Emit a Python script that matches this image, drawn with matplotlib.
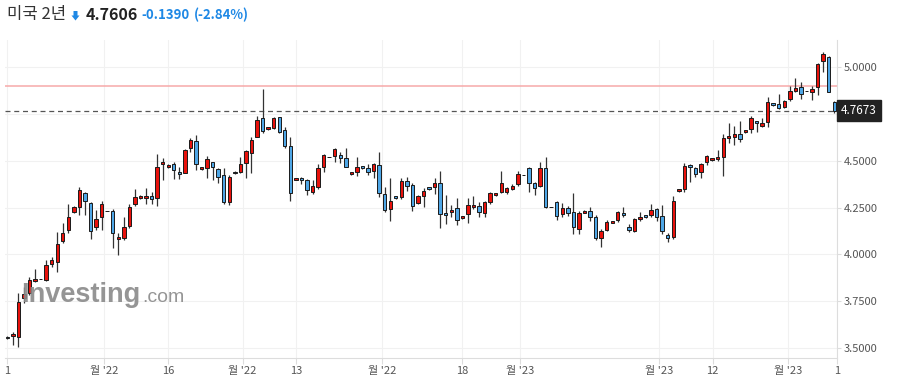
import matplotlib
matplotlib.use("Agg")
import matplotlib.pyplot as plt
import matplotlib.transforms as mtransforms
from matplotlib.patches import Polygon
import numpy as np

plt.rcParams['font.family'] = ['Noto Sans CJK KR', 'DejaVu Sans']

# OHLC values
opens = [3.560, 3.564, 3.557, 3.765, 3.795, 3.856, 3.868, 3.863, 3.947, 3.958,
         4.073, 4.130, 4.228, 4.251, 4.326, 4.273, 4.148, 4.201, 4.231, 4.231,
         4.080, 4.086, 4.151, 4.267, 4.300, 4.300, 4.312, 4.299, 4.481, 4.465,
         4.482, 4.440, 4.436, 4.566, 4.605, 4.454, 4.462, 4.491, 4.455, 4.424,
         4.278, 4.440, 4.441, 4.489, 4.543, 4.628, 4.726, 4.668, 4.673, 4.732,
         4.664, 4.578, 4.397, 4.406, 4.397, 4.335, 4.361, 4.465, 4.518, 4.525,
         4.529, 4.513, 4.427, 4.441, 4.472, 4.459, 4.446, 4.477, 4.320, 4.240,
         4.312, 4.308, 4.391, 4.370, 4.273, 4.312, 4.358, 4.361, 4.379, 4.219,
         4.224, 4.246, 4.192, 4.214, 4.251, 4.260, 4.219, 4.278, 4.315, 4.331,
         4.331, 4.350, 4.374, 4.422, 4.459, 4.379, 4.365, 4.459, 4.254, 4.278,
         4.214, 4.246, 4.224, 4.134, 4.222, 4.233, 4.198, 4.086, 4.130, 4.167,
         4.182, 4.219, 4.144, 4.125, 4.187, 4.209, 4.209, 4.240, 4.205, 4.103,
         4.094, 4.336, 4.347, 4.477, 4.459, 4.438, 4.494, 4.502, 4.507, 4.521,
         4.619, 4.628, 4.642, 4.651, 4.667, 4.712, 4.687, 4.705, 4.806, 4.801,
         4.788, 4.829, 4.873, 4.895, 4.870, 4.868, 4.895, 5.034, 5.052, 4.815]
highs = [3.565, 3.587, 3.792, 3.827, 3.877, 3.922, 3.868, 3.970, 3.984, 4.118,
         4.166, 4.267, 4.260, 4.361, 4.335, 4.281, 4.237, 4.286, 4.231, 4.240,
         4.112, 4.201, 4.267, 4.347, 4.315, 4.353, 4.331, 4.535, 4.513, 4.480,
         4.493, 4.468, 4.561, 4.619, 4.635, 4.468, 4.525, 4.495, 4.462, 4.459,
         4.424, 4.445, 4.521, 4.557, 4.628, 4.739, 4.881, 4.682, 4.732, 4.735,
         4.682, 4.628, 4.410, 4.415, 4.404, 4.397, 4.482, 4.536, 4.518, 4.566,
         4.545, 4.566, 4.442, 4.518, 4.474, 4.482, 4.489, 4.548, 4.361, 4.406,
         4.314, 4.406, 4.411, 4.382, 4.317, 4.353, 4.360, 4.406, 4.445, 4.317,
         4.263, 4.302, 4.206, 4.299, 4.312, 4.278, 4.286, 4.333, 4.328, 4.447,
         4.358, 4.374, 4.445, 4.422, 4.465, 4.388, 4.495, 4.518, 4.254, 4.286,
         4.272, 4.258, 4.326, 4.231, 4.235, 4.254, 4.210, 4.136, 4.183, 4.180,
         4.233, 4.251, 4.162, 4.193, 4.224, 4.211, 4.267, 4.246, 4.263, 4.115,
         4.313, 4.349, 4.489, 4.482, 4.468, 4.489, 4.530, 4.515, 4.557, 4.641,
         4.699, 4.685, 4.713, 4.666, 4.738, 4.713, 4.726, 4.838, 4.808, 4.856,
         4.824, 4.900, 4.940, 4.918, 4.870, 4.899, 5.020, 5.082, 5.059, 4.818]
lows = [3.550, 3.516, 3.507, 3.739, 3.783, 3.851, 3.868, 3.859, 3.934, 3.907,
        4.059, 4.112, 4.220, 4.210, 4.210, 4.082, 4.130, 4.130, 4.231, 4.032,
        3.995, 4.077, 4.139, 4.258, 4.298, 4.267, 4.267, 4.260, 4.397, 4.460,
        4.402, 4.400, 4.433, 4.548, 4.450, 4.452, 4.406, 4.397, 4.382, 4.267,
        4.263, 4.428, 4.436, 4.406, 4.436, 4.625, 4.647, 4.665, 4.668, 4.650,
        4.566, 4.286, 4.395, 4.375, 4.317, 4.320, 4.347, 4.442, 4.518, 4.495,
        4.489, 4.465, 4.425, 4.420, 4.457, 4.424, 4.406, 4.308, 4.228, 4.180,
        4.298, 4.294, 4.338, 4.233, 4.269, 4.251, 4.345, 4.322, 4.139, 4.162,
        4.198, 4.155, 4.190, 4.166, 4.240, 4.198, 4.198, 4.269, 4.313, 4.326,
        4.322, 4.343, 4.365, 4.422, 4.335, 4.317, 4.358, 4.246, 4.254, 4.183,
        4.198, 4.205, 4.109, 4.107, 4.220, 4.180, 4.077, 4.038, 4.125, 4.165,
        4.174, 4.201, 4.121, 4.121, 4.178, 4.196, 4.201, 4.180, 4.107, 4.067,
        4.080, 4.334, 4.334, 4.384, 4.414, 4.406, 4.477, 4.500, 4.500, 4.420,
        4.593, 4.584, 4.601, 4.649, 4.646, 4.651, 4.678, 4.681, 4.794, 4.774,
        4.783, 4.820, 4.865, 4.827, 4.870, 4.824, 4.851, 4.972, 4.865, 4.753]
closes = [3.555, 3.575, 3.744, 3.787, 3.863, 3.868, 3.868, 3.942, 3.970, 4.054,
          4.112, 4.198, 4.251, 4.344, 4.287, 4.126, 4.187, 4.267, 4.231, 4.112,
          4.091, 4.144, 4.251, 4.308, 4.312, 4.312, 4.294, 4.465, 4.491, 4.475,
          4.450, 4.427, 4.557, 4.610, 4.481, 4.465, 4.509, 4.468, 4.414, 4.278,
          4.411, 4.432, 4.482, 4.552, 4.610, 4.717, 4.659, 4.678, 4.726, 4.655,
          4.578, 4.329, 4.408, 4.396, 4.343, 4.365, 4.459, 4.529, 4.518, 4.561,
          4.516, 4.468, 4.440, 4.465, 4.459, 4.441, 4.482, 4.326, 4.237, 4.285,
          4.300, 4.391, 4.365, 4.260, 4.312, 4.338, 4.347, 4.379, 4.215, 4.209,
          4.237, 4.183, 4.204, 4.264, 4.264, 4.224, 4.278, 4.326, 4.326, 4.379,
          4.353, 4.365, 4.427, 4.422, 4.379, 4.353, 4.459, 4.254, 4.254, 4.206,
          4.246, 4.219, 4.144, 4.219, 4.233, 4.201, 4.086, 4.125, 4.171, 4.178,
          4.228, 4.209, 4.130, 4.187, 4.198, 4.198, 4.237, 4.201, 4.125, 4.089,
          4.285, 4.347, 4.472, 4.465, 4.429, 4.481, 4.525, 4.513, 4.518, 4.619,
          4.632, 4.642, 4.614, 4.664, 4.726, 4.700, 4.700, 4.812, 4.796, 4.780,
          4.817, 4.873, 4.886, 4.856, 4.870, 4.881, 5.016, 5.068, 4.868, 4.767]

tick_pos = [0, 17.4, 28.95, 42.4, 52.0, 67.5, 81.9, 92.4, 117.4, 127.1, 140.7, 149.5]
tick_labels = ["1", "월 '22", "16", "월 '22", "13", "월 '22", "18", "월 '23",
               "월 '23", "12", "월 '23", "1"]
y_ticks = [3.5, 3.75, 4.0, 4.25, 4.5, 4.75, 5.0]

prev_close = 4.8996
last_price = 4.7673

opens = np.array(opens)
closes = np.array(closes)
highs = np.array(highs)
lows = np.array(lows)
x = np.arange(len(opens))
up = closes >= opens
colors = np.where(up, '#e8120c', '#4ea6e6')

W, H = 899, 391
fig = plt.figure(figsize=(W / 100, H / 100), dpi=100)
ax = fig.add_axes([5 / W, 33 / H, 832 / W, 318 / H])

ax.vlines(x, lows, highs, color='#333333', lw=0.9, zorder=2)
ax.bar(x, np.abs(closes - opens), bottom=np.minimum(opens, closes), width=0.62,
       color=colors, edgecolor='#1a1a1a', linewidth=0.7, zorder=3)

ax.axhline(prev_close, color='#f7a9a9', lw=1.1, zorder=1.5)
ax.axhline(last_price, color='#555555', lw=0.9, ls=(0, (4, 3)), zorder=1.5)

ax.set_xlim(-0.41, 149.5)
ax.set_ylim(3.447, 5.144)

ax.set_xticks(tick_pos)
ax.set_xticklabels(tick_labels)
ax.set_yticks(y_ticks)
ax.set_yticklabels(['' if v == 4.75 else f'{v:.4f}' for v in y_ticks])
ax.yaxis.tick_right()
ax.tick_params(axis='y', length=3, color='#dddddd', labelcolor='#555555',
               labelsize=8, pad=2)
ax.tick_params(axis='x', length=4, color='#dddddd', labelcolor='#555555',
               labelsize=8, pad=1.5)
ax.grid(color='#f1f1f1', lw=0.8)
ax.set_axisbelow(True)
for s in ['top', 'left']:
    ax.spines[s].set_visible(False)
for s in ['right', 'bottom']:
    ax.spines[s].set_color('#dddddd')

# last price box
trans = mtransforms.blended_transform_factory(ax.transAxes, ax.transData)
ax.text(1 + 4 / 832, last_price, f'{last_price:.4f}', transform=trans,
        ha='left', va='center', color='white', fontsize=8.5, zorder=10,
        clip_on=False,
        bbox=dict(boxstyle='square,pad=0.35', fc='#222222', ec='#222222'))

# watermark
fig.text(21 / W, 1 - 301.7 / H, 'Investing', family='Liberation Sans',
         weight='bold', fontsize=19.5, color='#8a8a8a', alpha=0.9, va='baseline')
fig.text(142.5 / W, 1 - 301.7 / H, '.com', family='Liberation Sans',
         fontsize=14, color='#8a8a8a', alpha=0.9, va='baseline')

# header
fig.text(7 / W, 1 - 15 / H, '미국 2년', fontsize=12, color='#333333', va='center')
arrow = [(73.5, 11), (77.5, 11), (77.5, 15.5), (79.5, 15.5), (75.5, 20.5),
         (71.5, 15.5), (73.5, 15.5)]
fig.patches.append(Polygon([(px / W, 1 - py / H) for px, py in arrow],
                           closed=True, transform=fig.transFigure,
                           fc='#1e88e5', ec='none'))
fig.text(86 / W, 1 - 15 / H, '4.7606', fontsize=11.5, weight='bold',
         color='#222222', va='center')
fig.text(141.5 / W, 1 - 15 / H, '-0.1390', fontsize=9.5, weight='bold',
         color='#1e88e5', va='center')
fig.text(194 / W, 1 - 15 / H, '(-2.84%)', fontsize=9.5, weight='bold',
         color='#1e88e5', va='center')

fig.savefig('out.png', dpi=100)
